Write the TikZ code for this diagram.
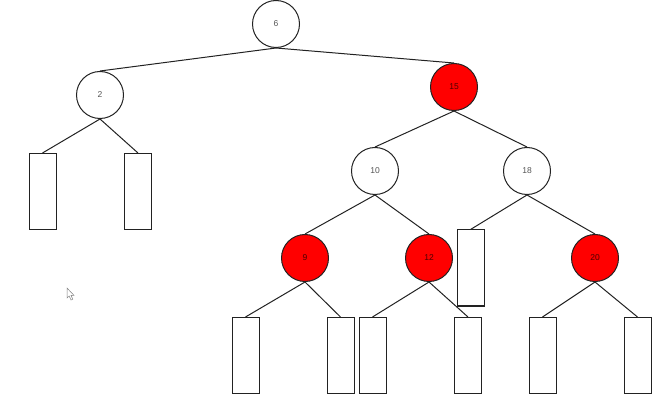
\documentclass[tikz,border=0pt]{standalone}
\usepackage{fontspec}
\setmainfont{Liberation Sans}
\definecolor{edgec}{HTML}{222222}
\definecolor{txtc}{HTML}{555555}
\begin{document}
\begin{tikzpicture}[x=1pt,y=-1pt,
  rb/.style={circle,draw=edgec,line width=1pt,minimum size=47pt,inner sep=0pt,fill=white,text=txtc,font=\fontsize{8.5}{10}\selectfont},
  red/.style={rb,fill=red,text=black!70!red},
  leaf/.style={draw=edgec,line width=1pt,minimum width=27pt,minimum height=76pt,inner sep=0pt,fill=white},
  edge/.style={draw=edgec,line width=1pt}]
\useasboundingbox (0,0) rectangle (659,406);
\node[rb] (n6) at (276,24) {6};
\node[rb] (n2) at (100,95) {2};
\node[red] (n15) at (454,87) {15};
\node[rb] (n10) at (375,171) {10};
\node[rb] (n18) at (527,171) {18};
\node[red] (n9) at (305,258) {9};
\node[red] (n12) at (429,258) {12};
\node[red] (n20) at (595,258) {20};
\node[leaf] (l1) at (42.5,191.5) {};
\node[leaf] (l2) at (138,191.5) {};
\node[leaf] (l3) at (470.5,268) {};
\node[leaf] (l4) at (245.5,355.5) {};
\node[leaf] (l5) at (340.5,355.5) {};
\node[leaf] (l6) at (372.5,355.5) {};
\node[leaf] (l7) at (468,355.5) {};
\node[leaf] (l8) at (542.5,355.5) {};
\node[leaf] (l9) at (637.5,355.5) {};
\path[edge] (n6.south) -- (n2.north);
\path[edge] (n6.south) -- (n15.north);
\path[edge] (n2.south) -- (l1.north);
\path[edge] (n2.south) -- (l2.north);
\path[edge] (n15.south) -- (n10.north);
\path[edge] (n15.south) -- (n18.north);
\path[edge] (n10.south) -- (n9.north);
\path[edge] (n10.south) -- (n12.north);
\path[edge] (n18.south) -- (l3.north);
\path[edge] (n18.south) -- (n20.north);
\path[edge] (n9.south) -- (l4.north);
\path[edge] (n9.south) -- (l5.north);
\path[edge] (n12.south) -- (l6.north);
\path[edge] (n12.south) -- (l7.north);
\path[edge] (n20.south) -- (l8.north);
\path[edge] (n20.south) -- (l9.north);
% mouse cursor
\draw[gray,line width=0.5pt,fill=white] (67,288) -- (67,298) -- (69.2,296) -- (71,300) -- (72.8,299.2) -- (71,295.4) -- (74,295.4) -- cycle;
\end{tikzpicture}
\end{document}
